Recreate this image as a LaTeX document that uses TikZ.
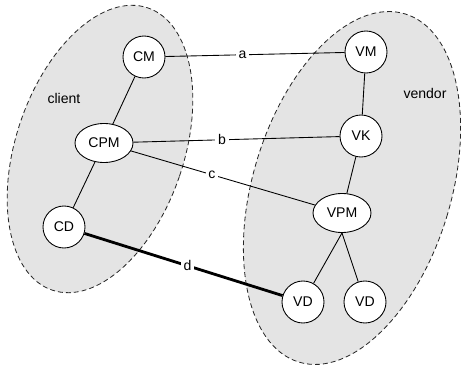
\documentclass[tikz,border=0pt]{standalone}
\usepackage{fontspec}
\setmainfont{Liberation Sans}
\usetikzlibrary{shapes.geometric}
\definecolor{zonegray}{HTML}{E4E4E4}

\begin{document}
\begin{tikzpicture}[x=0.03cm, y=0.03cm, font=\fontsize{12}{14}\selectfont,
    zone/.style={fill=zonegray, draw=black!85, line width=0.7pt, dash pattern=on 4.2pt off 2.6pt},
    party/.style={circle, draw, fill=white, line width=0.75pt, minimum size=1.26cm, inner sep=0pt},
    mgr/.style={ellipse, draw, fill=white, line width=0.75pt, minimum width=1.74cm, minimum height=1.17cm, inner sep=0pt},
    link/.style={line width=0.75pt},
    lbl/.style={fill=white, inner sep=2.5pt}]
    \useasboundingbox (0,0) rectangle (461,366);
    % the two sides
    \draw[zone, rotate around={-18.7:(100,217)}] (100,217) ellipse [x radius=84, y radius=149];
    \draw[zone, rotate around={-17:(352,178)}] (352,178) ellipse [x radius=99, y radius=182];
    \node (client) at (64,268) {client};
    \node (vendor) at (425,273) {vendor};
    % client side
    \node[party] (CM)  at (144,309) {CM};
    \node[mgr]   (CPM) at (104,223) {CPM};
    \node[party] (CD)  at (64,139)  {CD};
    % vendor side
    \node[party] (VM)  at (366,314) {VM};
    \node[party] (VK)  at (361,230) {VK};
    \node[mgr]   (VPM) at (342,153) {VPM};
    \node[party] (VDa) at (303,64)  {VD};
    \node[party] (VDb) at (365,64)  {VD};
    % inside links
    \draw[link] (CM) -- (CPM);
    \draw[link] (CPM) -- (CD);
    \draw[link] (VM) -- (VK);
    \draw[link] (VK) -- (VPM);
    \draw[link] (VPM.south) -- (VDa);
    \draw[link] (VPM.south) -- (VDb);
    % links across
    \draw[link] (CM) -- node[lbl, pos=0.43] (la) {a} (VM);
    \draw[link] (CPM) -- node[lbl, pos=0.43] (lb) {b} (VK);
    \draw[link] (CPM) -- node[lbl, pos=0.44] (lc) {c} (VPM);
    \draw[line width=2.4pt] (CD) -- node[lbl, pos=0.52] (ld) {d} (VDa);
\end{tikzpicture}
\end{document}
